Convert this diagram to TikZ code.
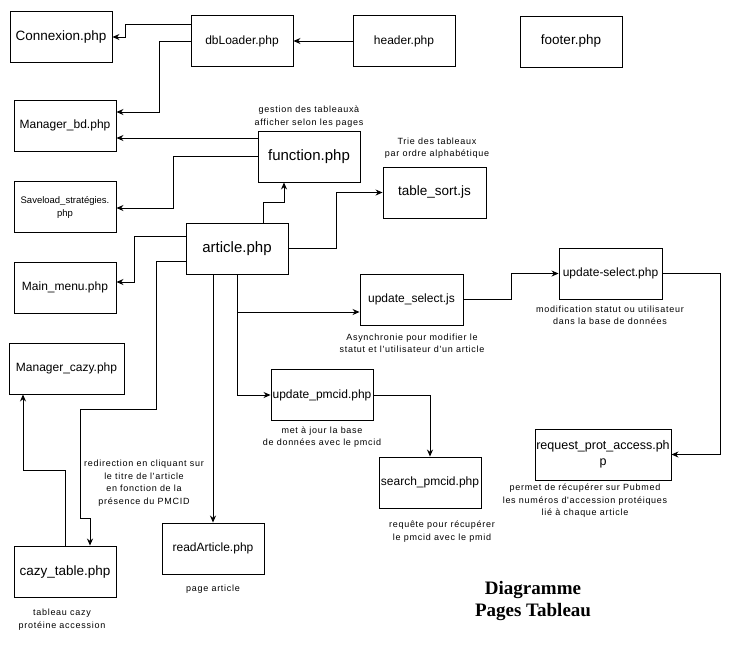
\documentclass[tikz,border=0pt]{standalone}
\usepackage{fontspec}
\setmainfont{Liberation Sans}
\newfontfamily\titlefont{Liberation Serif}
\newfontfamily\notefont[LetterSpace=8]{Liberation Sans}
\usetikzlibrary{arrows.meta}
\tikzset{
  box/.style={draw=black, line width=0.9pt, fill=white, inner sep=0pt, align=center,
              minimum width=102pt, minimum height=51pt, font=\fontsize{12}{14}\selectfont},
  bigtxt/.style={font=\fontsize{15}{17}\selectfont},
  midtxt/.style={font=\fontsize{13.5}{15}\selectfont},
  note/.style={inner sep=0pt, align=center, font=\notefont\fontsize{9}{12.5}\selectfont},
  arr/.style={draw=black, line width=0.9pt, -{Stealth[length=7pt,width=6pt]}},
}
\begin{document}
\begin{tikzpicture}[x=1pt,y=-1pt]
\useasboundingbox (0,0) rectangle (752,654);
% boxes
\node[box, midtxt] (con) at (61,37) {Connexion.php};
\node[box] (db) at (242,41) {dbLoader.php};
\node[box] (header) at (404,41) {header.php};
\node[box, midtxt] (footer) at (571,41.5) {footer.php};
\node[box] (mbd) at (65,125.5) {Manager\_bd.php};
\node[box, bigtxt] (func) at (309,156.5) {function.php};
\node[box, font=\fontsize{9.5}{13}\selectfont] (save) at (65,207) {Saveload\_stratégies.\\php};
\node[box, midtxt, minimum width=103pt] (tsort) at (434.5,192.5) {table\_sort.js};
\node[box, bigtxt] (article) at (237,248.5) {article.php};
\node[box] (mainmenu) at (65,287.5) {Main\_menu.php};
\node[box, minimum width=103pt] (usjs) at (411.5,299.5) {update\_select.js};
\node[box, minimum width=103pt] (uphp) at (610.5,273.5) {update-select.php};
\node[box, minimum width=115pt] (mcazy) at (66.5,368.5) {Manager\_cazy.php};
\node[box] (upmcid) at (322,395) {update\_pmcid.php};
\node[box, minimum width=136pt, font=\fontsize{12.5}{16}\selectfont] (rpa) at (603,454.5) {request\_prot\_access.ph\\p};
\node[box] (spmcid) at (430,482.5) {search\_pmcid.php};
\node[box, midtxt] (cazy) at (65,571.5) {cazy\_table.php};
\node[box] (read) at (213,548.5) {readArticle.php};
% notes
\node[note] (n1) at (309,116.5) {gestion des tableauxà\\afficher selon les pages};
\node[note] (n2) at (437,148) {Trie des tableaux\\par ordre alphabétique};
\node[note] (n3) at (412,343.5) {Asynchronie pour modifier le\\statut et l'utilisateur d'un article};
\node[note] (n4) at (610,315.5) {modification statut ou utilisateur\\dans la base de données};
\node[note] (n5) at (322,437) {met à jour la base\\de données avec le pmcid};
\node[note] (n6) at (144,483) {redirection en cliquant sur\\le titre de l'article\\en fonction de la\\présence du PMCID};
\node[note] (n7) at (585,501) {permet de récupérer sur Pubmed\\les numéros d'accession protéiques\\lié à chaque article};
\node[note] (n8) at (442,531.5) {requête pour récupérer\\le pmcid avec le pmid};
\node[note] (n9) at (213,589) {page article};
\node[note] (n10) at (62,619.5) {tableau cazy\\protéine accession};
\node[align=center, inner sep=0pt, font=\titlefont\bfseries\fontsize{19}{22}\selectfont] (title) at (533,601) {Diagramme\\Pages Tableau};
% connectors
\draw[arr] (db.west |- 0,24) -| (125,37) -- (con.east);
\draw[arr] (db.west) -| (159,112) -- (mbd.east |- 0,112);
\draw[arr] (header.west) -- (db.east);
\draw[arr] (func.west |- 0,138) -- (mbd.east |- 0,138);
\draw[arr] (func.west) -| (173,208) -- (save.east |- 0,208);
\draw[arr] (article.north -| 263,0) |- (284,202) -- (func.south -| 284,0);
\draw[arr] (article.east) -| (336,192.5) -- (tsort.west);
\draw[arr] (article.west |- 0,236) -| (134,282) -- (mainmenu.east |- 0,282);
\draw[arr] (article.west |- 0,261) -| (156,409) -| (80,518) -| (cazy.north -| 90,0);
\draw[arr] (article.south -| read.north) -- (read.north);
\draw[arr] (article.south) |- (usjs.west |- 0,312);
\draw[arr] (article.south) |- (upmcid.west);
\draw[arr] (usjs.east) -| (511,273.5) -- (uphp.west);
\draw[arr] (uphp.east) -| (720,454.5) -- (rpa.east);
\draw[arr] (upmcid.east) -| (spmcid.north);
\draw[arr] (cazy.north) |- (23,470) -- (mcazy.south -| 23,0);
\end{tikzpicture}
\end{document}
